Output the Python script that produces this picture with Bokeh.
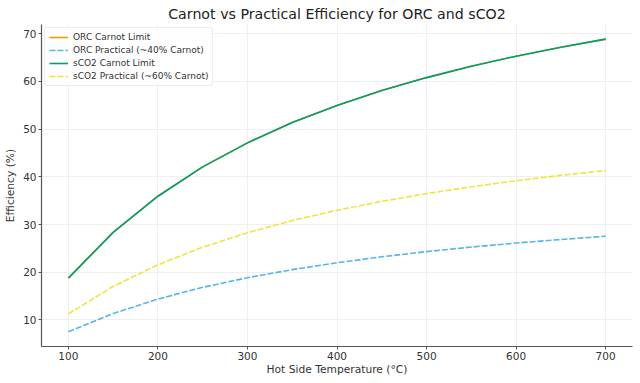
from bokeh.plotting import figure
from bokeh.embed import file_html
from bokeh.resources import INLINE
from bokeh.models import Legend, LegendItem, FixedTicker, Range1d

temps = [100, 150, 200, 250, 300, 350, 400, 450, 500, 550, 600, 650, 700]
orc_carnot = [18.76, 28.36, 35.93, 42.07, 47.11, 51.36, 54.96, 58.08, 60.79, 63.17, 65.28, 67.16, 68.85]
orc_practical = [7.50, 11.34, 14.37, 16.83, 18.85, 20.54, 21.98, 23.23, 24.32, 25.27, 26.11, 26.86, 27.54]
sco2_carnot = [18.76, 28.36, 35.93, 42.07, 47.11, 51.36, 54.96, 58.08, 60.79, 63.17, 65.28, 67.16, 68.85]
sco2_practical = [11.26, 17.02, 21.56, 25.24, 28.27, 30.82, 32.98, 34.85, 36.47, 37.90, 39.17, 40.30, 41.31]

x_ticks = [100, 200, 300, 400, 500, 600, 700]
y_ticks = [10, 20, 30, 40, 50, 60, 70]

FONT = "DejaVu Sans"

p = figure(width=640, height=383, output_backend="svg", toolbar_location=None,
           x_range=Range1d(70, 730), y_range=Range1d(4.43, 71.92),
           title="Carnot vs Practical Efficiency for ORC and sCO2")
p.min_border_left = 41
p.min_border_right = 8
p.min_border_top = 4
p.min_border_bottom = 37
p.outline_line_color = None
p.background_fill_color = "white"
p.border_fill_color = "white"

p.title.align = "center"
p.title.text_font = FONT
p.title.text_font_size = "14.2px"
p.title.text_font_style = "normal"
p.title.text_color = "#222222"
p.title.standoff = 6

r1 = p.line(temps, orc_carnot, line_color="#E69F00", line_width=1.6)
r2 = p.line(temps, orc_practical, line_color="#56B4E9", line_width=1.6, line_dash="6 2")
r3 = p.line(temps, sco2_carnot, line_color="#009E73", line_width=1.6)
r4 = p.line(temps, sco2_practical, line_color="#F0E442", line_width=1.6, line_dash="6 2")

for ax in (p.xaxis[0], p.yaxis[0]):
    ax.axis_line_color = "#555555"
    ax.axis_line_width = 1.2
    ax.major_tick_line_color = "#555555"
    ax.major_tick_out = 3
    ax.major_tick_in = 0
    ax.minor_tick_line_color = None
    ax.major_label_text_font = FONT
    ax.major_label_text_font_size = "10.5px"
    ax.major_label_text_color = "#333333"
    ax.axis_label_text_font = FONT
    ax.axis_label_text_font_size = "10.7px"
    ax.axis_label_text_font_style = "normal"
    ax.axis_label_text_color = "#333333"

p.xaxis.major_label_standoff = 2
p.xaxis.axis_label_standoff = 0
p.yaxis.major_label_standoff = 2
p.yaxis.axis_label_standoff = 3

p.xaxis.ticker = FixedTicker(ticks=x_ticks)
p.yaxis.ticker = FixedTicker(ticks=y_ticks)
p.xaxis.axis_label = "Hot Side Temperature (°C)"
p.yaxis.axis_label = "Efficiency (%)"

p.xgrid.ticker = FixedTicker(ticks=x_ticks)
p.ygrid.ticker = FixedTicker(ticks=y_ticks)
p.grid.grid_line_color = "#ebebeb"
p.grid.grid_line_width = 0.8

legend = Legend(items=[
    LegendItem(label="ORC Carnot Limit", renderers=[r1]),
    LegendItem(label="ORC Practical (~40% Carnot)", renderers=[r2]),
    LegendItem(label="sCO2 Carnot Limit", renderers=[r3]),
    LegendItem(label="sCO2 Practical (~60% Carnot)", renderers=[r4]),
], location="top_left")
legend.label_text_font = FONT
legend.label_text_font_size = "9px"
legend.label_text_color = "#333333"
legend.glyph_width = 19
legend.glyph_height = 10
legend.label_height = 10
legend.label_standoff = 5
legend.spacing = 3
legend.padding = 4
legend.margin = 3
legend.border_line_color = "#dddddd"
legend.border_radius = 3
legend.background_fill_alpha = 0.85
p.add_layout(legend)

open("out.html", "w").write(file_html(p, INLINE))
